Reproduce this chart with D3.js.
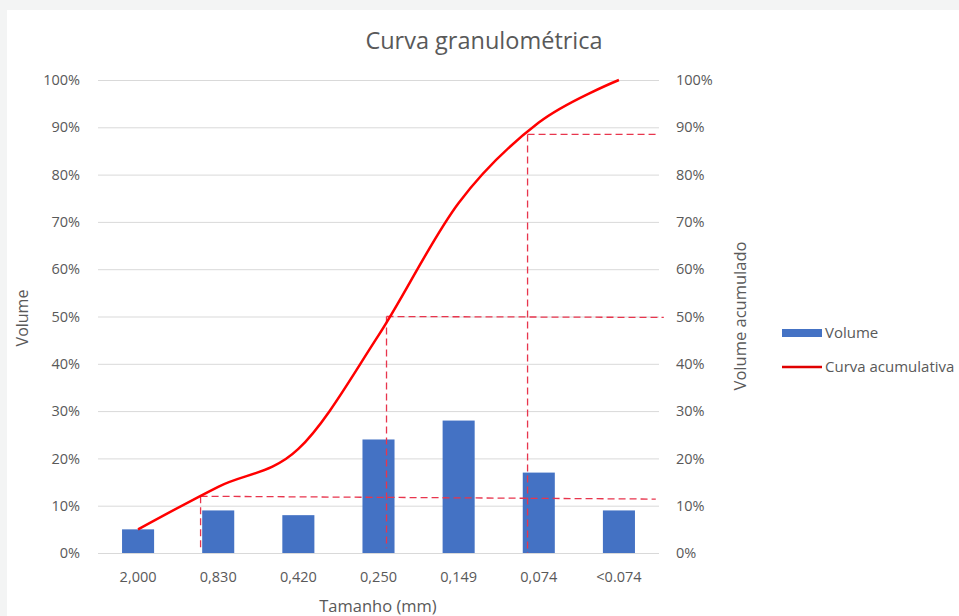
<!DOCTYPE html>
<html><head><meta charset="utf-8">
<script src="https://cdn.jsdelivr.net/npm/d3@7"></script>
<style>body{margin:0;background:#f3f4f4;}svg{display:block;}</style>
</head><body>
<svg id="c" width="959" height="616"></svg>
<script>
const categories = ["2,000","0,830","0,420","0,250","0,149","0,074","<0.074"];
const volume = [5, 9, 8, 24, 28, 17, 9];
const cumulative = [5, 14, 22, 46, 74, 91, 100];
const yTicks = [0,10,20,30,40,50,60,70,80,90,100];
// reference dashed lines: [index position, percent]
const refVertical = [[0.78, 12, 1], [3.1, 50, 1], [4.86, 88.5, 0]];
const refHorizontal = [[0.78, 12, 6.46, 11.4], [3.1, 50, 6.56, 49.8], [4.86, 88.5, 6.46, 88.5]];

const svg = d3.select("#c");
const font = "'Open Sans', sans-serif";
const grey = "#595959";
svg.append("rect").attr("x",7).attr("y",10).attr("width",952).attr("height",606).attr("fill","#fff");

const L=98, R=659, T=80, B=553;
const x = d3.scaleBand().domain(categories).range([L,R]).paddingInner(0.6).paddingOuter(0.3);
const y = d3.scaleLinear().domain([0,100]).range([B,T]);
const xi = d3.scaleLinear().domain([0,categories.length-1]).range([x(categories[0])+x.bandwidth()/2, x(categories[categories.length-1])+x.bandwidth()/2]);

// grid
svg.append("g").selectAll("line").data(yTicks).join("line")
  .attr("x1",L).attr("x2",R).attr("y1",d=>y(d)+0.5).attr("y2",d=>y(d)+0.5)
  .attr("stroke","#d9d9d9").attr("stroke-width",1);

const tickFS = 14.5;
// left axis
const la = svg.append("g").attr("transform",`translate(${L},0)`).call(d3.axisLeft(y).tickValues(yTicks).tickFormat(d=>d+"%").tickSize(0).tickPadding(18));
la.select(".domain").remove();
la.selectAll("text").attr("font-family",font).attr("font-size",tickFS).attr("fill",grey);
const ra = svg.append("g").attr("transform",`translate(${R},0)`).call(d3.axisRight(y).tickValues(yTicks).tickFormat(d=>d+"%").tickSize(0).tickPadding(17));
ra.select(".domain").remove();
ra.selectAll("text").attr("font-family",font).attr("font-size",tickFS).attr("fill",grey);

// x axis
const xa = svg.append("g").attr("transform",`translate(0,${B})`).call(d3.axisBottom(x).tickSize(0).tickPadding(19));
xa.select(".domain").remove();
xa.selectAll("text").attr("font-family",font).attr("font-size",tickFS).attr("fill",grey);

// bars
svg.append("g").selectAll("rect").data(volume).join("rect")
  .attr("x",(d,i)=>x(categories[i])).attr("width",x.bandwidth())
  .attr("y",d=>y(d)).attr("height",d=>y(0)-y(d)).attr("fill","#4472c4");

// reference dashed lines
const dash = "7,4";
svg.append("g").selectAll("line").data(refHorizontal).join("line")
  .attr("x1",d=>xi(d[0])).attr("x2",d=>xi(d[2])).attr("y1",d=>y(d[1])).attr("y2",d=>y(d[3]))
  .attr("stroke","#e8354d").attr("stroke-width",1.3).attr("stroke-dasharray",dash);
svg.append("g").selectAll("line").data(refVertical).join("line")
  .attr("x1",d=>xi(d[0])).attr("x2",d=>xi(d[0])).attr("y1",d=>y(d[1])).attr("y2",d=>y(d[2]))
  .attr("stroke","#e8354d").attr("stroke-width",1.3).attr("stroke-dasharray",dash);

// curve
const line = d3.line().x((d,i)=>xi(i)).y(d=>y(d)).curve(d3.curveCardinal.tension(0));
svg.append("path").datum(cumulative).attr("d",line).attr("fill","none").attr("stroke","#ff0000").attr("stroke-width",2.5);

// titles
svg.append("text").attr("x",484).attr("y",49).attr("text-anchor","middle").attr("font-family",font).attr("font-size",23.5).attr("fill",grey).text("Curva granulométrica");
svg.append("text").attr("x",378).attr("y",612).attr("text-anchor","middle").attr("font-family",font).attr("font-size",16.5).attr("fill",grey).text("Tamanho (mm)");
svg.append("text").attr("transform","translate(28,318) rotate(-90)").attr("text-anchor","middle").attr("font-family",font).attr("font-size",16).attr("fill",grey).text("Volume");
svg.append("text").attr("transform","translate(746,316) rotate(-90)").attr("text-anchor","middle").attr("font-family",font).attr("font-size",16.5).attr("fill",grey).text("Volume acumulado");

// legend
const lg = svg.append("g");
lg.append("rect").attr("x",782).attr("y",329).attr("width",40).attr("height",8).attr("fill","#4472c4");
lg.append("text").attr("x",825).attr("y",333).attr("dy","0.35em").attr("font-family",font).attr("font-size",15).attr("fill",grey).text("Volume");
lg.append("line").attr("x1",782).attr("x2",822).attr("y1",367).attr("y2",367).attr("stroke","#e00000").attr("stroke-width",2.5);
lg.append("text").attr("x",825).attr("y",367).attr("dy","0.35em").attr("font-family",font).attr("font-size",15).attr("fill",grey).text("Curva acumulativa");
</script>
</body></html>
